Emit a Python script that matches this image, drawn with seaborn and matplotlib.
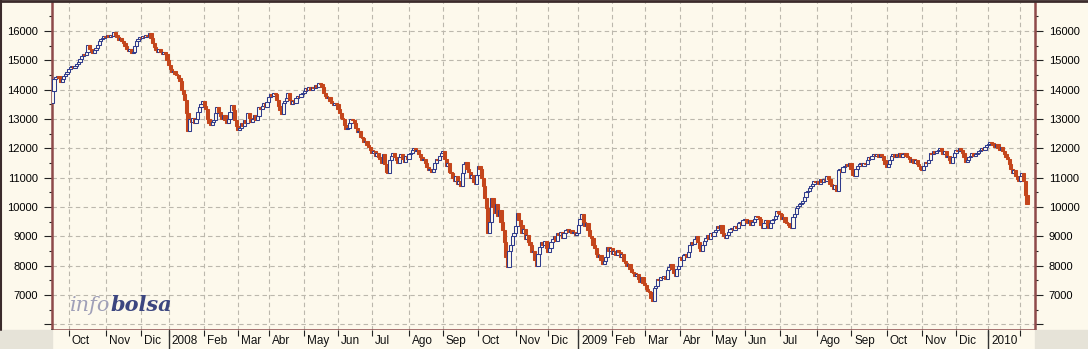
import numpy as np
import pandas as pd
import matplotlib
matplotlib.use("Agg")
import matplotlib.pyplot as plt
import matplotlib.transforms as mtransforms
from matplotlib.ticker import MultipleLocator
from matplotlib.patches import Rectangle
from matplotlib.lines import Line2D
import seaborn as sns

# ---------------- data (IBEX 35 daily closes) ----------------
start_date = "2007-09-17"
first_open = 13550
closes = [
    13950, 14350, 14420, 14480, 14390, 14270, 14380, 14450, 14520, 14600,
    14700, 14760, 14800, 14750, 14820, 14880, 14950, 15050, 15150, 15220,
    15180, 15300, 15520, 15400, 15330, 15250, 15350, 15420, 15520, 15650,
    15720, 15760, 15820, 15780, 15850, 15800, 15870, 15820, 15950, 15850,
    15780, 15700, 15760, 15650, 15600, 15480, 15400, 15320, 15380, 15260,
    15300, 15500, 15650, 15720, 15800, 15760, 15840, 15800, 15870, 15820,
    15930, 15750, 15600, 15450, 15350, 15280, 15380, 15300, 15220, 15300,
    15200, 15000, 14850, 14700, 14600, 14650, 14550, 14500, 14400, 14300,
    14000, 13850, 13650, 13200, 12600, 13000, 12900, 13050, 12880, 13000,
    13250, 13400, 13500, 13620, 13450, 13350, 13000, 12850, 12780, 12900,
    12950, 13200, 13400, 13250, 13100, 13000, 13150, 12950, 12880, 13000,
    13250, 13470, 13300, 12950, 12750, 12630, 12700, 12850, 12750, 12950,
    12850, 13200, 13050, 12900, 13000, 13150, 12950, 13100, 13400, 13350,
    13450, 13550, 13400, 13580, 13750, 13850, 13780, 13900, 13850, 13650,
    13450, 13300, 13180, 13550, 13620, 13700, 13900, 13650, 13500, 13600,
    13550, 13700, 13800, 13750, 13850, 13900, 13950, 14050, 13980, 14080,
    14000, 14100, 14050, 14150, 14100, 14230, 14180, 14100, 13900, 13800,
    13700, 13750, 13600, 13550, 13480, 13560, 13500, 13350, 13200, 13050,
    13000, 12800, 12650, 12700, 12880, 13000, 12950, 12850, 12700, 12550,
    12600, 12400, 12350, 12200, 12250, 12100, 12050, 11950, 11850, 11900,
    11750, 11850, 11700, 11650, 11500, 11800, 11450, 11200, 11150, 11600,
    11750, 11850, 11700, 11600, 11500, 11700, 11800, 11650, 11550, 11750,
    11650, 11800, 11850, 11950, 12000, 11900, 11950, 11800, 11700, 11600,
    11650, 11500, 11350, 11250, 11300, 11200, 11300, 11500, 11650, 11600,
    11750, 11850, 11920, 11650, 11400, 11500, 11200, 11150, 11000, 10900,
    11050, 10800, 10900, 10700, 11150, 11450, 11550, 11300, 11200, 11000,
    11100, 10850, 10800,
    11100, 11400, 11300, 11000, 10700, 10300, 9950,
    9100, 9500, 10300, 10000, 9800, 10100, 9700, 9900, 9500, 9200,
    8800, 8300, 7950, 8500, 8700, 9000, 9100, 9350, 9800, 9550,
    9400, 9100, 9250, 8900, 9050, 8800, 8700, 8450, 8500, 8200,
    8000, 8400, 8650, 8800, 8700, 8850, 8600, 8450, 8600, 8800,
    8900, 9000, 8850, 9100, 9050, 9150, 8950, 9100, 9200, 9250,
    9150, 9220, 9100, 9150, 9050, 9100, 9400, 9600, 9750, 9500,
    9350, 9450, 9200, 9000, 8950, 8700, 8600, 8400, 8300, 8350,
    8200, 8050, 8150, 8300, 8650, 8500, 8600, 8400, 8500, 8350,
    8550, 8450, 8300, 8400, 8150, 8100, 8000, 8050, 7900, 7800,
    7750, 7650, 7700, 7550, 7450, 7600, 7400, 7350, 7200, 7150,
    7100, 6900, 6800, 7250, 7300, 7550, 7500, 7620, 7580, 7650,
    7550, 7850, 7950, 8050, 7900, 7750, 7650, 7900, 8000, 8300,
    8200, 8350, 8400, 8300, 8450, 8700, 8800, 8750, 8900, 9000,
    8800, 8600, 8500, 8700, 8850, 8950, 9050, 8900, 9100, 9000,
    9150, 9200, 9350, 9300, 9400, 9100, 9000, 8950, 9050, 9150,
    9250, 9300, 9220, 9350, 9300, 9450, 9500, 9400, 9550, 9600,
    9500, 9450, 9550, 9400, 9500, 9600, 9700, 9650, 9600, 9400,
    9300, 9450, 9550, 9400, 9300, 9450, 9550, 9600, 9700, 9850,
    9800, 9750, 9600, 9650, 9500, 9450, 9400, 9320, 9300, 9650,
    9750, 9950, 10050, 10100, 10150, 10200, 10350, 10500, 10550, 10650,
    10700, 10800, 10900, 10850, 10900, 10800, 10950, 10850, 10950, 10900,
    11050, 10950, 10800, 10700, 10600, 10750, 10550, 11250, 11300, 11200,
    11350, 11400, 11450, 11400, 11500, 11300, 11100, 11050, 11300, 11400,
    11450, 11500, 11400, 11500, 11450, 11600, 11700, 11650, 11750, 11800,
    11750, 11800, 11700, 11800, 11750, 11600, 11450, 11350, 11450, 11600,
    11750, 11800, 11700, 11800, 11750, 11850, 11700, 11800, 11850, 11750,
    11700, 11650, 11550, 11650, 11500, 11600, 11450, 11400, 11300, 11250,
    11400, 11550, 11500, 11600, 11850, 11800, 11900, 11850, 11900, 11950,
    12000, 11900, 11800, 11900, 11700, 11750, 11600, 11500, 11700, 11850,
    11950, 11900, 12000, 11950, 11850, 11700, 11550, 11600, 11700, 11750,
    11850, 11750, 11800, 11850, 11900, 11950, 12000, 11950, 12050, 12100,
    12150, 12200, 12180, 12100, 12050, 12150, 12000, 11950, 12050, 11900,
    11800, 11700, 11650, 11450, 11300, 11150, 11250, 11050, 10950, 10900,
    11050, 11150, 10900, 10400, 10100,
]
market_holidays = [
    "2007-12-24", "2007-12-25", "2007-12-26", "2007-12-31",
    "2008-01-01", "2008-03-21", "2008-03-24", "2008-05-01",
    "2008-12-24", "2008-12-25", "2008-12-26", "2008-12-31",
    "2009-01-01", "2009-04-10", "2009-04-13", "2009-05-01",
    "2009-12-24", "2009-12-25", "2009-12-31", "2010-01-01",
]
month_abbr = ["Ene", "Feb", "Mar", "Abr", "May", "Jun",
              "Jul", "Ago", "Sep", "Oct", "Nov", "Dic"]
y_ticks = list(range(6000, 17000, 1000))
y_labels = [""] + [str(v) for v in range(7000, 17000, 1000)]
watermark = ("info", "bolsa")

# ---------------- build table ----------------
dates = pd.bdate_range(start_date, periods=len(closes), freq="C",
                       holidays=market_holidays)
df = pd.DataFrame({"date": dates, "close": closes})
df["open"] = [first_open] + closes[:-1]
df["i"] = np.arange(len(df))
df["rising"] = df["close"] >= df["open"]

month_pos, month_lab, is_year = [], [], []
for k in range(1, len(df)):
    d, p = df["date"].iloc[k], df["date"].iloc[k - 1]
    if d.month != p.month:
        month_pos.append(k)
        if d.month == 1:
            month_lab.append(str(d.year)); is_year.append(True)
        else:
            month_lab.append(month_abbr[d.month - 1]); is_year.append(False)

# ---------------- style ----------------
BG = "#fdf9ec"
GRAYC = "#e6e3d8"
SPINE = "#8e4a4a"
BLUE = "#2f3b8c"
RED = "#c4461c"
GRID = "#bcb8ad"

sns.set_style("white")
plt.rcParams["font.family"] = ["Liberation Sans", "DejaVu Sans"]
plt.rcParams["font.size"] = 8

W, H = 1088, 349
fig = plt.figure(figsize=(W / 100, H / 100), dpi=100, facecolor=BG)

L, R = 52, 1035
top_px, bot_px = 2, 330
ax = fig.add_axes([L / W, (H - bot_px) / H, (R - L) / W, (bot_px - top_px) / H])
ax.set_facecolor(BG)

x_max = 609.0
ax.set_xlim(-0.3, x_max)
ax.set_ylim(5807, 16989)

# grid
ax.set_yticks(y_ticks)
ax.set_yticklabels(y_labels)
ax.yaxis.set_minor_locator(MultipleLocator(500))
ax.set_xticks(month_pos)
ax.set_xticklabels([])
ax.grid(True, which="major", color=GRID, linestyle=(0, (4, 3)), linewidth=0.8)
ax.set_axisbelow(True)
ax.tick_params(axis="x", length=0)
ax.tick_params(axis="y", which="major", direction="out", length=6, width=0.8,
               left=True, right=True, labelleft=True, labelright=True,
               color="#222222", labelcolor="black", labelsize=8, pad=4)
ax.tick_params(axis="y", which="minor", direction="out", length=2.5, width=0.8,
               left=True, right=True, color="#222222")

for side in ["left", "right", "bottom"]:
    ax.spines[side].set_color(SPINE)
    ax.spines[side].set_linewidth(1.8)
ax.spines["top"].set_visible(False)

# candles, drawn in date order so later days overlap earlier ones
body_lo = df[["open", "close"]].min(axis=1)
body_h = (df["close"] - df["open"]).abs().clip(lower=40)
faces = [BG if r else RED for r in df["rising"]]
edges = [BLUE if r else RED for r in df["rising"]]
ax.bar(df["i"], body_h, bottom=body_lo, width=2.0,
       color=faces, edgecolor=edges, linewidth=0.75, zorder=3)

# watermark
t1 = ax.text(0.018, 0.058, watermark[0], transform=ax.transAxes,
             fontfamily="DejaVu Serif", fontstyle="italic", fontsize=15,
             color="#a0a0b8", va="baseline", ha="left", zorder=2)
ax.annotate(watermark[1], xy=(1, 0.058), xycoords=(t1, "axes fraction"),
            fontfamily="DejaVu Serif", fontstyle="italic", fontweight="bold",
            fontsize=15, color="#3c4680", va="baseline", ha="left", zorder=2)

# ---------------- month strip ----------------
ax2 = fig.add_axes([L / W, 0, (R - L) / W, (H - bot_px) / H])
ax2.set_facecolor(BG)
ax2.set_xlim(-0.3, x_max)
ax2.set_ylim(0, 1)
ax2.set_yticks([])
ax2.set_xticks(month_pos)
ax2.set_xticklabels([])
ax2.tick_params(axis="x", direction="in", top=True, bottom=False, length=4,
                width=0.8, color="#222222", labeltop=False, labelbottom=False)
for side in ["top", "bottom", "right"]:
    ax2.spines[side].set_visible(False)
ax2.spines["left"].set_color("#333333")
ax2.spines["left"].set_linewidth(1.2)
lab_tr = mtransforms.offset_copy(
    mtransforms.blended_transform_factory(ax2.transData, ax2.transAxes),
    fig=fig, x=3, y=0, units="dots")
for pos, lab, yr in zip(month_pos, month_lab, is_year):
    if yr:
        ax2.axvline(pos, color="#333333", linewidth=1.0)
    if pos < len(df) - 10:
        ax2.text(pos, 0.42, lab, transform=lab_tr, ha="left", va="center",
                 fontsize=8.5, color="#111111")

# gray corners and outer border
fig.patches.append(Rectangle((0, 0), L / W, (H - bot_px) / H,
                             transform=fig.transFigure, color=GRAYC, zorder=0))
fig.patches.append(Rectangle((R / W, 0), 1 - R / W, (H - bot_px) / H,
                             transform=fig.transFigure, color=GRAYC, zorder=0))
fig.lines.append(Line2D([0, 1], [1 - 0.5 / H, 1 - 0.5 / H], transform=fig.transFigure,
                        color="#3b2b2b", linewidth=2))
fig.lines.append(Line2D([0.5 / W, 0.5 / W], [(H - bot_px) / H, 1], transform=fig.transFigure,
                        color="#3b2b2b", linewidth=1.5))

fig.savefig("out.png", dpi=100, facecolor=BG)
